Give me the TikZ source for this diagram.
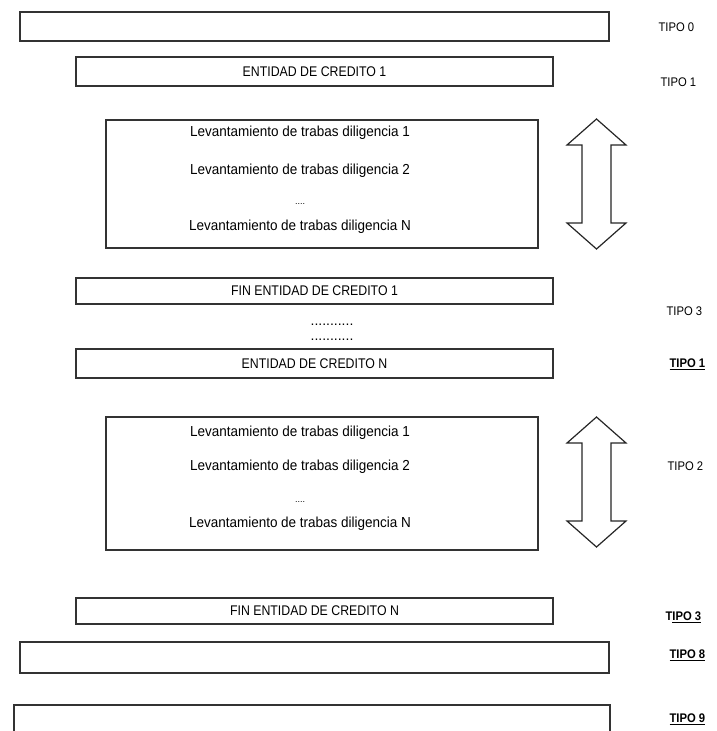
\documentclass[tikz,border=0pt]{standalone}
\usepackage{fontspec}
\setmainfont{Liberation Sans}
\newcommand\narrow[2][0.88]{\scalebox{#1}[1]{#2}}
\begin{document}
\begin{tikzpicture}[x=1pt, y=-1pt,
  box/.style={draw=black!80, line width=1.2pt, inner sep=0pt},
  caps/.style={font=\fontsize{14}{16}\selectfont},
  lev/.style={font=\fontsize{14.5}{16}\selectfont},
  tipo/.style={anchor=west, font=\fontsize{12.5}{14}\selectfont},
  tipob/.style={anchor=west, font=\fontsize{12.5}{14}\selectfont\bfseries},
  darrow/.style={draw=black!85, line width=1.2pt, fill=white}]
  \useasboundingbox (0,0) rectangle (716,731);
  % cabecera
  \node[box, minimum width=589pt, minimum height=29pt] (t0) at (314.5,26.5) {};
  \node[tipo] (l0) at (655,27) {\narrow[0.9]{TIPO 0}};
  \node[box, caps, minimum width=477pt, minimum height=29pt] (e1) at (314.5,71.5) {\narrow{ENTIDAD DE CREDITO 1}};
  \node[tipo] (l1) at (657,82) {\narrow[0.9]{TIPO 1}};
  % diligencias entidad 1
  \node[box, minimum width=432pt, minimum height=128pt] (d1) at (322,184) {};
  \node[lev] (d1a) at (300,133) {\narrow[0.93]{Levantamiento de trabas diligencia 1}};
  \node[lev] (d1b) at (300,171) {\narrow[0.93]{Levantamiento de trabas diligencia 2}};
  \node[lev, font=\fontsize{9}{10}\selectfont] (d1c) at (300,204) {....};
  \node[lev] (d1n) at (300,227) {\narrow[0.93]{Levantamiento de trabas diligencia N}};
  \node[box, caps, minimum width=477pt, minimum height=26pt] (f1) at (314.5,291) {\narrow{FIN ENTIDAD DE CREDITO 1}};
  \node[tipo] (l3) at (663,311) {\narrow[0.9]{TIPO 3}};
  \node[caps] (p1) at (332,325) {...........};
  \node[caps] (p2) at (332,340) {...........};
  % entidad N
  \node[box, caps, minimum width=477pt, minimum height=29pt] (eN) at (314.5,363.5) {\narrow{ENTIDAD DE CREDITO N}};
  \node[tipob] (l1b) at (666,364) {\narrow[0.9]{\underline{TIPO 1}}};
  \node[box, minimum width=432pt, minimum height=133pt] (d2) at (322,483.5) {};
  \node[lev] (d2a) at (300,433) {\narrow[0.93]{Levantamiento de trabas diligencia 1}};
  \node[lev] (d2b) at (300,467) {\narrow[0.93]{Levantamiento de trabas diligencia 2}};
  \node[lev, font=\fontsize{9}{10}\selectfont] (d2c) at (300,502) {....};
  \node[lev] (d2n) at (300,524) {\narrow[0.93]{Levantamiento de trabas diligencia N}};
  \node[tipo] (l2) at (664,466) {\narrow[0.9]{TIPO 2}};
  \node[box, caps, minimum width=477pt, minimum height=26pt] (fN) at (314.5,611) {\narrow{FIN ENTIDAD DE CREDITO N}};
  \node[tipob] (l3b) at (662,617) {\narrow[0.9]{T\underline{IPO 3}}};
  % cola
  \node[box, minimum width=589pt, minimum height=31pt] (t8) at (314.5,657.5) {};
  \node[tipob] (l8) at (666,655) {\narrow[0.9]{\underline{TIPO 8}}};
  \node[box, minimum width=596pt, minimum height=40pt] (t9) at (312,725) {};
  \node[tipob] (l9) at (666,719) {\narrow[0.9]{\underline{TIPO 9}}};
  % flechas dobles
  \foreach \t/\b in {119/249, 417/547}
    \draw[darrow] (596.5,\t) -- (626,\t+26) -- (611,\t+26) -- (611,\b-26) -- (626,\b-26)
      -- (596.5,\b) -- (567,\b-26) -- (582,\b-26) -- (582,\t+26) -- (567,\t+26) -- cycle;
\end{tikzpicture}
\end{document}
